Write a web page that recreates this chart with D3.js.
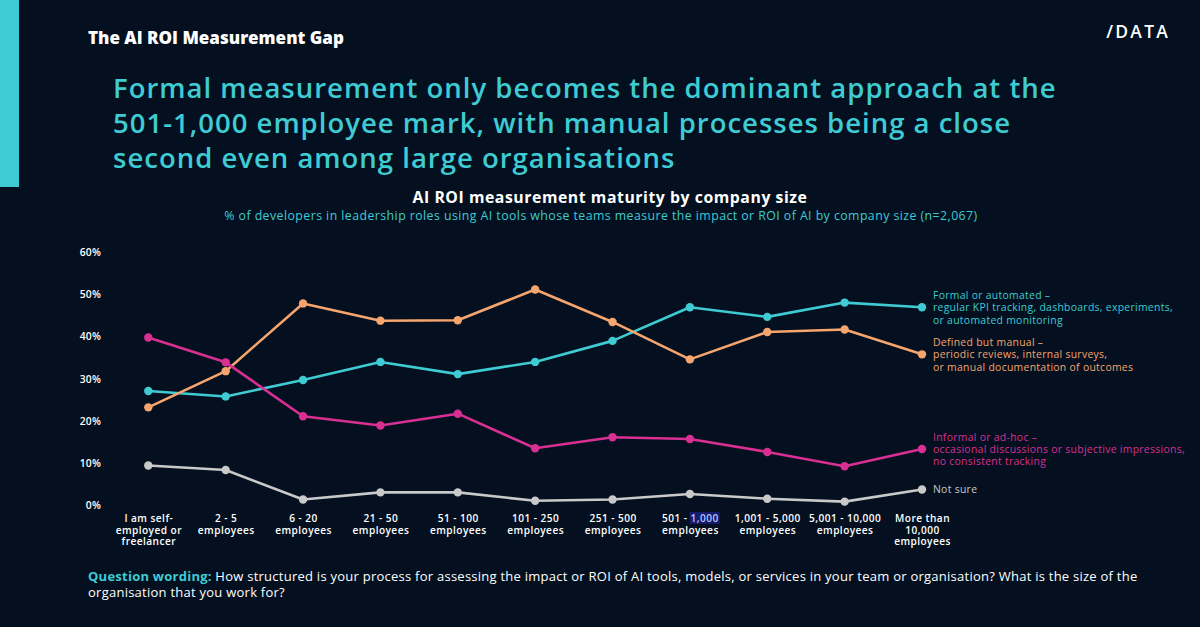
<!DOCTYPE html>
<html>
<head>
<meta charset="utf-8">
<script src="https://cdn.jsdelivr.net/npm/d3@7"></script>
<style>
  html, body { margin: 0; padding: 0; background: #04101f; }
  #chart { width: 1200px; height: 627px; }
  text { font-family: "Open Sans", "DejaVu Sans", sans-serif; }
</style>
</head>
<body>
<div id="chart"></div>
<script>
// AI ROI measurement maturity by company size – multi-line chart

const categories = [
  ["I am self-", "employed or", "freelancer"],
  ["2 - 5", "employees"],
  ["6 - 20", "employees"],
  ["21 - 50", "employees"],
  ["51 - 100", "employees"],
  ["101 - 250", "employees"],
  ["251 - 500", "employees"],
  ["501 - 1,000", "employees"],
  ["1,001 - 5,000", "employees"],
  ["5,001 - 10,000", "employees"],
  ["More than", "10,000", "employees"]
];

const formalValues   = [27.1, 25.8, 29.7, 34.0, 31.1, 34.0, 39.0, 47.0, 44.7, 48.1, 47.0];
const definedValues  = [23.2, 31.8, 47.9, 43.8, 43.9, 51.2, 43.5, 34.6, 41.1, 41.7, 35.8];
const informalValues = [39.8, 33.9, 21.1, 18.9, 21.7, 13.5, 16.1, 15.7, 12.6, 9.2, 13.3];
const notSureValues  = [9.4, 8.3, 1.3, 3.0, 3.0, 1.0, 1.3, 2.6, 1.5, 0.8, 3.7];

const yTicks = [0, 10, 20, 30, 40, 50, 60];

const seriesLabels = [
  ["Formal or automated –", "regular KPI tracking, dashboards, experiments,", "or automated monitoring"],
  ["Defined but manual –", "periodic reviews, internal surveys,", "or manual documentation of outcomes"],
  ["Informal or ad-hoc –", "occasional discussions or subjective impressions,", "no consistent tracking"],
  ["Not sure"]
];

const series = [
  { values: formalValues,   color: "#3fcbd3", label: seriesLabels[0] },
  { values: definedValues,  color: "#f7a56e", label: seriesLabels[1] },
  { values: informalValues, color: "#d92f93", label: seriesLabels[2] },
  { values: notSureValues,  color: "#c9c9c9", label: seriesLabels[3] }
];

function render() {
  const width = 1200, height = 627;
  const svg = d3.select("#chart").append("svg")
    .attr("width", width)
    .attr("height", height);

  svg.append("rect").attr("width", width).attr("height", height).attr("fill", "#04101f");

  // left accent bar
  svg.append("rect").attr("x", 0).attr("y", 0).attr("width", 19).attr("height", 187).attr("fill", "#3fcbd3");

  svg.append("text")
    .attr("x", 88).attr("y", 44)
    .attr("fill", "#fff")
    .attr("font-size", 17)
    .attr("font-weight", 800)
    .text("The AI ROI Measurement Gap");

  // logo
  svg.append("text")
    .attr("x", 1170).attr("y", 38)
    .attr("text-anchor", "end")
    .attr("fill", "#fff")
    .attr("font-size", 17.5)
    .attr("font-weight", 600)
    .attr("letter-spacing", 2.2)
    .text("/DATA");

  const headline = [
    "Formal measurement only becomes the dominant approach at the",
    "501-1,000 employee mark, with manual processes being a close",
    "second even among large organisations"
  ];
  svg.append("g").selectAll("text")
    .data(headline)
    .join("text")
    .attr("x", 113)
    .attr("y", (d, i) => 98 + i * 35)
    .attr("fill", "#3fcbd3")
    .attr("font-size", 27.5)
    .attr("font-weight", 600)
    .attr("letter-spacing", 1)
    .text(d => d);

  svg.append("text")
    .attr("x", 610).attr("y", 203)
    .attr("text-anchor", "middle")
    .attr("fill", "#fff")
    .attr("font-size", 15.8)
    .attr("font-weight", 700)
    .attr("letter-spacing", 0.55)
    .text("AI ROI measurement maturity by company size");

  svg.append("text")
    .attr("x", 601).attr("y", 220)
    .attr("text-anchor", "middle")
    .attr("fill", "#3fcbd3")
    .attr("font-size", 12.3)
    .attr("letter-spacing", 0.45)
    .text("% of developers in leadership roles using AI tools whose teams measure the impact or ROI of AI by company size (n=2,067)");

  // scales
  const x = d3.scalePoint()
    .domain(d3.range(categories.length))
    .range([148.3, 922]);

  const y = d3.scaleLinear()
    .domain([0, 60])
    .range([505, 252.5]);

  // y axis labels
  const yAxis = svg.append("g")
    .attr("transform", "translate(101,0)")
    .call(d3.axisLeft(y).tickValues(yTicks).tickSize(0).tickPadding(0).tickFormat(d => d + "%"));
  yAxis.select(".domain").remove();
  yAxis.selectAll("text")
    .attr("fill", "#fff")
    .attr("font-size", 10.3)
    .attr("font-weight", 600)
    .attr("letter-spacing", 0.2)
    .style("font-family", "'Open Sans', sans-serif");

  // x axis labels
  const xAxis = svg.append("g")
    .attr("transform", "translate(0,513)")
    .call(d3.axisBottom(x).tickSize(0).tickFormat(""));
  xAxis.select(".domain").remove();
  xAxis.selectAll(".tick").each(function(d) {
    const tick = d3.select(this);
    const t = tick.append("text")
      .attr("text-anchor", "middle")
      .attr("fill", "#fff")
      .attr("font-size", 10.1)
      .attr("font-weight", 600)
      .attr("letter-spacing", 0.45)
      .style("font-family", "'Open Sans', sans-serif");
    categories[d].forEach((line, i) => {
      const ts = t.append("tspan").attr("x", 0).attr("y", 9 + i * 11.7);
      if (line === "501 - 1,000") {
        // selected-text highlight seen in the reference
        ts.append("tspan").text("501 - ");
        const hl = ts.append("tspan").attr("fill", "#b9c2ff").text("1,000");
        const bb = hl.node().getBBox();
        tick.insert("rect", "text")
          .attr("x", bb.x - 1).attr("y", bb.y + 1)
          .attr("width", bb.width + 2).attr("height", bb.height - 2)
          .attr("fill", "#141c6b");
      } else {
        ts.text(line);
      }
    });
  });

  // lines
  const line = d3.line()
    .x((d, i) => x(i))
    .y(d => y(d));

  const g = svg.append("g");
  series.forEach(s => {
    g.append("path")
      .datum(s.values)
      .attr("fill", "none")
      .attr("stroke", s.color)
      .attr("stroke-width", 2.6)
      .attr("stroke-linejoin", "round")
      .attr("d", line);
    g.selectAll(null)
      .data(s.values)
      .join("circle")
      .attr("cx", (d, i) => x(i))
      .attr("cy", d => y(d))
      .attr("r", 4.2)
      .attr("fill", s.color);
  });

  // series labels at right end
  const last = categories.length - 1;
  series.forEach(s => {
    const cy = y(s.values[last]);
    const n = s.label.length;
    const t = svg.append("text")
      .attr("fill", s.color)
      .attr("font-size", 10.4)
      .attr("font-weight", 500)
      .attr("letter-spacing", 0.3);
    s.label.forEach((l, i) => {
      const off = n === 1 ? 0 : (i - 1);
      t.append("tspan")
        .attr("x", 933)
        .attr("y", cy + 4 + off * 12.3)
        .text(l);
    });
  });

  // footnote
  const foot = svg.append("text")
    .attr("x", 88).attr("y", 581)
    .attr("font-size", 13)
    .attr("letter-spacing", 0.25)
    .attr("fill", "#fff");
  foot.append("tspan").attr("fill", "#3fcbd3").attr("font-weight", 700).text("Question wording:");
  foot.append("tspan").text(" How structured is your process for assessing the impact or ROI of AI tools, models, or services in your team or organisation? What is the size of the");
  svg.append("text")
    .attr("x", 88).attr("y", 597)
    .attr("font-size", 13)
    .attr("letter-spacing", 0.25)
    .attr("fill", "#fff")
    .text("organisation that you work for?");
}

document.addEventListener("DOMContentLoaded", render);
</script>
</body>
</html>
